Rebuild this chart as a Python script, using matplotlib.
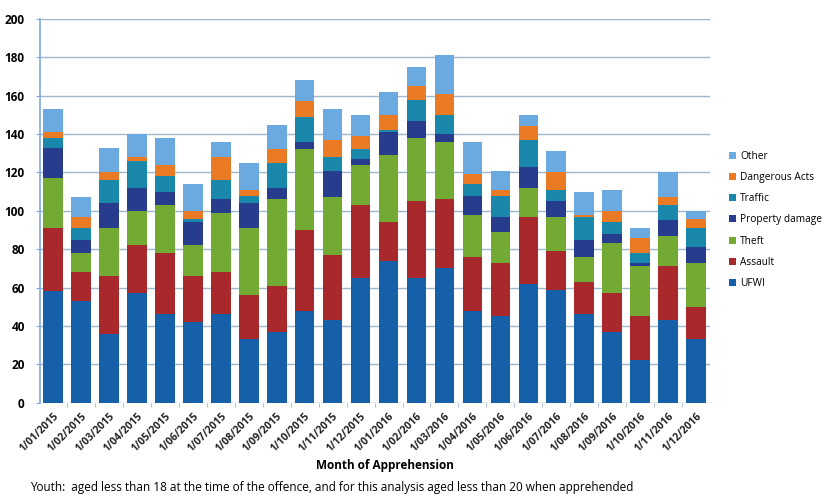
import matplotlib
matplotlib.use("Agg")
import matplotlib.pyplot as plt
import numpy as np
from matplotlib.patches import Patch

months = ["1/01/2015", "1/02/2015", "1/03/2015", "1/04/2015", "1/05/2015", "1/06/2015",
          "1/07/2015", "1/08/2015", "1/09/2015", "1/10/2015", "1/11/2015", "1/12/2015",
          "1/01/2016", "1/02/2016", "1/03/2016", "1/04/2016", "1/05/2016", "1/06/2016",
          "1/07/2016", "1/08/2016", "1/09/2016", "1/10/2016", "1/11/2016", "1/12/2016"]

ufwi =       [58, 53, 36, 57, 46, 42, 46, 33, 37, 48, 43, 65, 74, 65, 70, 48, 45, 62, 59, 46, 37, 22, 43, 33]
assault =    [33, 15, 30, 25, 32, 24, 22, 23, 24, 42, 34, 38, 20, 40, 36, 28, 28, 35, 20, 17, 20, 23, 28, 17]
theft =      [26, 10, 25, 18, 25, 16, 31, 35, 45, 42, 30, 21, 35, 33, 30, 22, 16, 15, 18, 13, 26, 26, 16, 23]
property_d = [16, 7, 13, 12, 7, 12, 7, 13, 6, 4, 14, 3, 12, 9, 4, 10, 8, 11, 8, 9, 5, 2, 8, 8]
traffic =    [5, 6, 12, 14, 8, 2, 10, 4, 13, 13, 7, 5, 1, 11, 10, 6, 11, 14, 6, 12, 6, 5, 8, 10]
dangerous =  [3, 6, 4, 2, 6, 4, 12, 3, 7, 8, 9, 7, 8, 7, 11, 5, 3, 7, 9, 1, 6, 8, 4, 5]
other =      [12, 10, 13, 12, 14, 14, 8, 14, 13, 11, 16, 11, 12, 10, 20, 17, 10, 6, 11, 12, 11, 5, 13, 4]

series_names = ["UFWI", "Assault", "Theft", "Property damage", "Traffic", "Dangerous Acts", "Other"]
series_vals = [ufwi, assault, theft, property_d, traffic, dangerous, other]
colors = ["#1660AA", "#A8282C", "#72AA34", "#283C8E", "#1A88AA", "#EB7A25", "#6AAAE0"]

plt.rcParams['font.family'] = ['Open Sans', 'DejaVu Sans']

fig = plt.figure(figsize=(8.27, 4.95), dpi=100)
ax = fig.add_axes([40/827, 1 - 402.7/495, (710 - 40)/827, (402.7 - 19)/495])

x = np.arange(len(months))
bottom = np.zeros(len(months))
for name, vals, c in zip(series_names, series_vals, colors):
    v = np.array(vals, dtype=float)
    ax.bar(x, v, bottom=bottom, width=0.7, color=c, label=name, zorder=3, linewidth=0)
    bottom += v

ax.set_xlim(-0.47, 23.5)
ax.set_ylim(0, 200)
ax.set_yticks(np.arange(0, 201, 20))
ax.yaxis.grid(True, color="#9DB7CF", linewidth=1.0, zorder=0)
ax.set_axisbelow(True)
for s in ["top", "right", "bottom"]:
    ax.spines[s].set_visible(False)
ax.spines["left"].set_color("#7FA9DC")
ax.spines["left"].set_linewidth(1.2)
ax.tick_params(axis="y", length=3, color="#7FA9DC", labelsize=8.5, pad=8)
for lab in ax.get_yticklabels():
    lab.set_fontweight("bold")

ax.set_xticks(x)
ax.set_xticklabels(months, rotation=45, ha="right", rotation_mode="anchor",
                   fontsize=7.5, fontweight="bold", color="#222222")
ax.tick_params(axis="x", length=0, pad=6)
ax.set_xticks(np.arange(0.5, 23.5, 1), minor=True)
ax.tick_params(axis="x", which="minor", length=3, color="#9DB7CF")

fig.text(385/827, 1 - 465/495, "Month of Apprehension", ha="center", va="center",
         fontsize=8.5, fontweight="bold")
fig.text(30/827, 1 - 488/495,
         "Youth:  aged less than 18 at the time of the offence, and for this analysis aged less than 20 when apprehended",
         ha="left", va="center", fontsize=8.5)

handles = [Patch(facecolor=c, label=n) for n, c in zip(series_names, colors)][::-1]
fig.legend(handles=handles, loc="upper left", bbox_to_anchor=(725/827, 1 - 147/495),
           frameon=False, fontsize=7.3, handlelength=0.7, handleheight=0.7,
           handletextpad=0.4, labelspacing=1.0, borderaxespad=0)

fig.savefig("out.png", dpi=100)
